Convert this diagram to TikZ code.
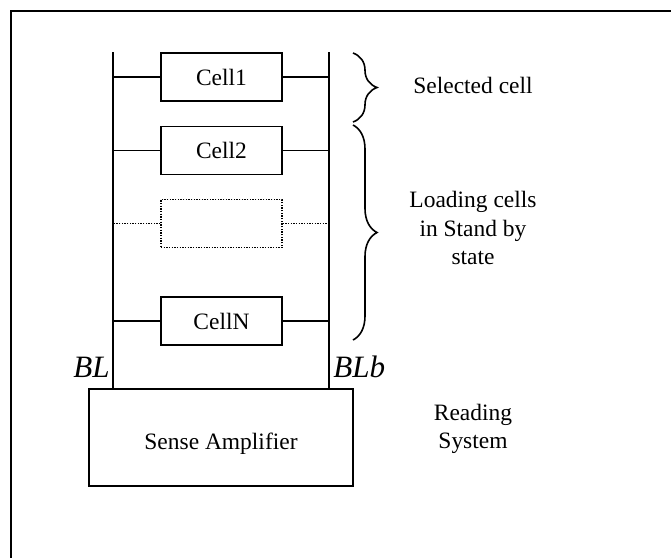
\documentclass[tikz,border=0pt]{standalone}
\usepackage{fontspec}
\setmainfont{Liberation Serif}
\usetikzlibrary{positioning,decorations.pathreplacing}

\begin{document}
\begin{tikzpicture}[x=0.75pt, y=-0.75pt,
  cell/.style={draw, line width=1pt, minimum width=90.75pt, minimum height=36pt,
    inner sep=0pt, font=\fontsize{17.6}{21}\selectfont},
  ghost/.style={cell, dash pattern=on 1pt off 1pt},
  wire/.style={line width=1pt},
  ghostwire/.style={line width=1pt, dash pattern=on 1pt off 1pt},
  brc/.style={decorate, decoration={brace, amplitude=18pt}, line width=1.2pt},
  note/.style={align=center, font=\fontsize{17.6}{21.4}\selectfont},
  bitline/.style={font=\fontsize{23.3}{28}\selectfont\itshape, inner sep=0pt}]

\useasboundingbox (0,0) rectangle (671,558);
\draw[line width=1.5pt] (671,11) -- (11,11) -- (11,558);

% cell column
\node[cell] (cell1) at (221.5,77) {Cell1};
\node[cell, below=18pt of cell1] (cell2) {Cell2};
\node[ghost, below=18pt of cell2] (cellx) {};
\node[cell, below=36pt of cellx] (cellN) {CellN};
\node[draw, line width=1pt, minimum width=198pt, minimum height=72.75pt,
  text height=22pt, font=\fontsize{17.6}{21}\selectfont] (sense) at (221,437.5) {Sense Amplifier};

% bit lines
\coordinate (bl) at (113,52);
\coordinate (blb) at (329,52);
\draw[wire] (bl) -- (bl |- sense.north);
\draw[wire] (blb) -- (blb |- sense.north);
\foreach \c in {cell1,cell2,cellN} {
  \draw[wire] (\c.west) -- (\c.west -| bl);
  \draw[wire] (\c.east) -- (\c.east -| blb);
}
\draw[ghostwire] (cellx.west) -- (cellx.west -| bl);
\draw[ghostwire] (cellx.east) -- (cellx.east -| blb);

\node[bitline, anchor=base east] (bllab) at (110,377) {BL};
\node[bitline, anchor=base west] (blblab) at (333,377) {BLb};

% braces and notes
\coordinate (selA) at (353,53);
\coordinate (selB) at (353,122);
\coordinate (loadA) at (353,125);
\coordinate (loadB) at (353,340);
\draw[brc] (selA) -- (selB);
\draw[brc] (loadA) -- (loadB);

\node[note] (sel) at (473,85) {Selected cell};
\node[note] (load) at (473,228) {Loading cells\\in Stand by\\state};
\node[note] (read) at (473,429) {Reading\\System};
\end{tikzpicture}
\end{document}
